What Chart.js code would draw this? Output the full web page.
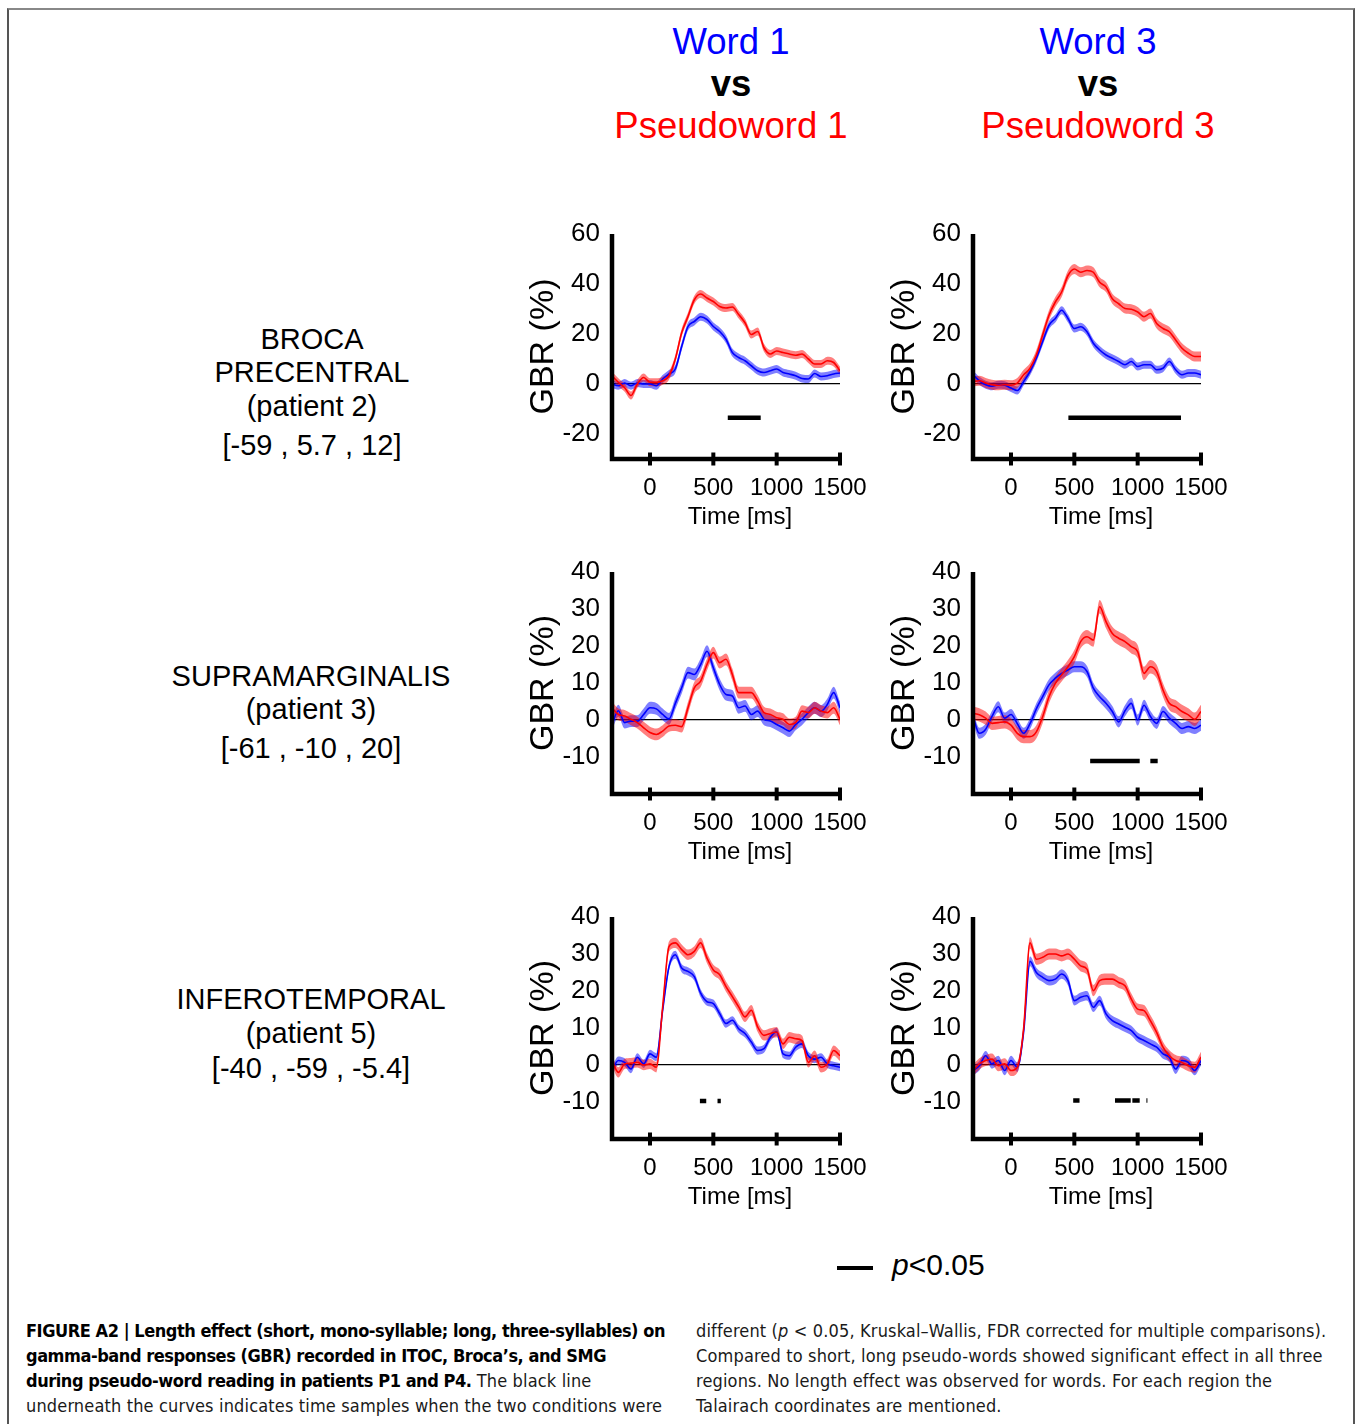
<!DOCTYPE html>
<html>
<head>
<meta charset="utf-8">
<title>Figure A2</title>
<script src="https://cdn.jsdelivr.net/npm/chart.js@4.4.1/dist/chart.umd.min.js"></script>
<style>
  html, body { margin: 0; padding: 0; background: #fff; }
  body { position: relative; width: 1355px; height: 1424px; overflow: hidden; font-family: "Liberation Sans", Arial, sans-serif; color: #000; }
  #frame { position: absolute; left: 7px; top: 8px; width: 1344px; height: 1440px; border: 2px solid #555; border-top-color: #888; border-bottom: none; }
  .lbl { position: absolute; white-space: nowrap; line-height: 1; transform: translateX(-50%); }
  .head { font-size: 36.5px; }
  .row { font-size: 29px; }
  .cap { position: absolute; top: 1318px; font-family: "DejaVu Sans Condensed", "Liberation Sans Narrow", sans-serif; font-size: 18px; line-height: 25px; white-space: nowrap; color: #1a1a1a; letter-spacing: 0.15px; }
  .cap b { color: #000; letter-spacing: -0.45px; }
</style>
</head>
<body>
<div id="frame"></div>

<div class="lbl head" style="left:731px;top:24px;color:#0000ff">Word 1</div>
<div class="lbl head" style="left:731px;top:66px;font-weight:bold">vs</div>
<div class="lbl head" style="left:731px;top:108px;color:#ff0000">Pseudoword 1</div>
<div class="lbl head" style="left:1098px;top:24px;color:#0000ff">Word 3</div>
<div class="lbl head" style="left:1098px;top:66px;font-weight:bold">vs</div>
<div class="lbl head" style="left:1098px;top:108px;color:#ff0000">Pseudoword 3</div>

<div class="lbl row" style="left:312px;top:325px">BROCA</div>
<div class="lbl row" style="left:312px;top:358px">PRECENTRAL</div>
<div class="lbl row" style="left:312px;top:392px">(patient 2)</div>
<div class="lbl row" style="left:312px;top:431px">[-59 , 5.7 , 12]</div>

<div class="lbl row" style="left:311px;top:662px">SUPRAMARGINALIS</div>
<div class="lbl row" style="left:311px;top:695px">(patient 3)</div>
<div class="lbl row" style="left:311px;top:734px">[-61 , -10 , 20]</div>

<div class="lbl row" style="left:311px;top:985px">INFEROTEMPORAL</div>
<div class="lbl row" style="left:311px;top:1019px">(patient 5)</div>
<div class="lbl row" style="left:311px;top:1054px">[-40 , -59 , -5.4]</div>

<div style="position:absolute;left:837px;top:1266px;width:36px;height:4px;background:#000"></div>
<div style="position:absolute;left:892px;top:1250px;font-size:30px;line-height:1;white-space:nowrap"><i>p</i>&lt;0.05</div>

<div class="cap" style="left:26px"><b>FIGURE A2 | Length effect (short, mono-syllable; long, three-syllables) on</b><br><b>gamma-band responses (GBR) recorded in ITOC, Broca’s, and SMG</b><br><b>during pseudo-word reading in patients P1 and P4.</b> The black line<br>underneath the curves indicates time samples when the two conditions were</div>
<div class="cap" style="left:696px">different (<i>p</i> &lt; 0.05, Kruskal–Wallis, FDR corrected for multiple comparisons).<br>Compared to short, long pseudo-words showed significant effect in all three<br>regions. No length effect was observed for words. For each region the<br>Talairach coordinates are mentioned.</div>

<script>
var timeMs = [-300, -250, -200, -150, -100, -50, 0, 50, 100, 150, 200, 250, 300, 350, 400, 450, 500, 550, 600,
  650, 700, 750, 800, 850, 900, 950, 1000, 1050, 1100, 1150, 1200, 1250, 1300, 1350, 1400, 1450, 1500];

// mean GBR (%), broca precentral
var brocaWord1 = [0, -0.7, 0.4, -0.7, 0.4, 0, 0, -0.7, 2, 4, 6, 15, 23, 25, 26.9, 25.8, 23, 21, 17.9, 12.6, 10.6, 9.3, 7.3, 5.3, 4.6, 5.3, 6, 4.6, 4, 3.3, 2.2, 2, 4.2, 3, 3.3, 4, 4.4];
var brocaPseudo1 = [3.3, 0.7, -1.5, -4.6, 0, 2.6, 0.7, 0.7, 1.3, 3.3, 10, 20.5, 27, 33.7, 36, 34.4, 33, 31, 30.4, 30.8, 27.8, 24.5, 19.8, 21, 14.5, 12, 13.2, 12.6, 12, 11.5, 12, 10, 8, 8, 9.3, 8.6, 5.3];
var brocaWord3 = [3.7, 1.3, -0.3, -0.9, -0.3, -0.5, -1.6, -2.6, 1, 5, 10.3, 17, 23.5, 26.2, 29.5, 26.2, 22.2, 22.9, 20.9, 16.3, 13.6, 11.6, 10.3, 9, 7.7, 9, 7, 7.7, 7.7, 5.7, 6.3, 9, 5.7, 3.7, 4.4, 4.4, 3.7];
var brocaPseudo3 = [1, 1.3, 0.4, -0.3, -0.5, -0.3, -0.5, 0.4, 3.7, 6.3, 11.6, 19.6, 27.5, 32.8, 36.8, 43.4, 46, 44.7, 45.4, 44.7, 40.7, 38.8, 34.1, 32.1, 30.2, 29.9, 28.8, 26.9, 28.2, 24.2, 22.2, 20.9, 17.6, 14.3, 12.3, 11, 11];

// supramarginalis
var smgWord1 = [-1.2, 2.5, -0.7, -0.3, -0.3, 1.5, 3.3, 3.0, 1.5, 0.3, 4.5, 8.7, 12.8, 12.3, 15, 18.6, 14.1, 9.6, 6.9, 6.5, 3.3, 3.8, 1.5, 2.4, 0.2, -0.3, -1.2, -2.1, -3, -1.2, 0.2, 2, 3.3, 2.4, 4.2, 7.4, 3.3];
var smgPseudo1 = [3.3, 1.5, 1.1, 0.2, -0.7, -2.1, -3.4, -3.9, -3, -1.6, -1.4, -1.8, 3.3, 8.7, 10.5, 15, 18.2, 15.5, 16.4, 12.3, 7.4, 7.4, 7.4, 5.1, 2, 1.5, 0.6, 0.2, -1.2, -0.7, 2.4, 2, 3.3, 2.4, 2, 3.3, 0.2];
var smgWord3 = [0.9, -3.6, -2.5, 1.0, 3.6, 0.5, 1.5, -1.0, -3.6, -1.0, 3.0, 6.3, 9.5, 11.3, 12.6, 13.5, 14.4, 14.4, 13.1, 8.6, 6.3, 4.5, 2.3, -0.5, 2.5, 4.5, 0, 4, 1, -0.9, 2.3, 0.5, -0.9, -2.3, -1.8, -2.3, -1.4];
var smgPseudo3 = [1.8, 1.4, 0.5, -0.9, -0.7, -0.5, -1.4, -3.6, -4.5, -4.5, -3.2, 0.9, 6.3, 9.9, 12.2, 14.4, 17.1, 21.2, 22.5, 21.6, 30.6, 26.6, 23.4, 22.1, 21.2, 19.8, 18.5, 12.6, 14.4, 13.1, 8.1, 4.5, 3.6, 2.3, 1.4, 0.2, 2.3];

// inferotemporal
var itWord1 = [-1.5, 1.2, 0.7, -1.1, 2.1, 0.3, 3, 2.1, 14.8, 26.6, 29.8, 26.2, 25.3, 23.9, 19.4, 17.1, 16.6, 13.9, 11.2, 12.1, 9.8, 8.5, 6.2, 3.9, 4.4, 7.5, 9.0, 3.0, 2.5, 4.8, 5.7, 2.5, 1.6, 2.1, 0.3, -0.2, -0.6];
var itPseudo1 = [1.2, -2, 0.3, 0.5, 0.7, 0, 0.3, -0.6, 15.7, 32, 33, 31.2, 29.8, 30.7, 33, 28.9, 25.7, 24.4, 21.2, 18.5, 15.7, 13, 14.8, 10.3, 8, 8.5, 8.9, 5.7, 7.5, 7.1, 6.6, 0.7, 2.5, -0.6, 0.3, 3.9, 2.5];
var itWord3 = [-1.5, -0.2, 2.5, 0.3, 1.2, -1.5, 1.2, -0.6, 9, 28, 25, 23.7, 22.8, 23.2, 24.6, 22.8, 17.4, 18.3, 18.7, 15.6, 17.4, 13.8, 12, 11.1, 10.2, 9.3, 7.5, 6.6, 5.7, 4.8, 3, 2.1, -1.1, 1.2, 0.7, -1.5, 1.2];
var itPseudo3 = [-1.5, 0.3, 1.2, 1.6, -0.2, 0.3, -1.5, -0.6, 10, 33, 28.6, 29.1, 30, 30, 29.5, 30, 28.6, 26.8, 25.9, 20.1, 22.8, 23.2, 23.2, 22.3, 21.4, 17.8, 15.1, 14.7, 12, 8.8, 4.8, 2.5, 1.2, 0.7, -0.2, -0.6, 2.1];

// s.e.m. half width of the shaded bands
var semWord = [1.6, 1.6, 1.6, 1.5, 1.1, 1.3];
var semPseudo = [1.6, 2.0, 1.6, 1.8, 1.4, 1.5];

// p<0.05 segments [start ms, end ms] and the level they are drawn at
var brocaSig1 = [[614, 874]];
var brocaSig3 = [[453, 1342]];
var smgSig1 = [];
var smgSig3 = [[625, 1016], [1100, 1158]];
var itSig1 = [[394, 444], [533, 559]];
var itSig3 = [[491, 541], [821, 945], [958, 1016], [1069, 1077]];
var sigLevel = [-13.5, -13.5, -11, -11.1, -9.7, -9.6];

var xTicks = [0, 500, 1000, 1500];
var yTicksBroca = [-20, 0, 20, 40, 60];
var yTicksSmall = [-10, 0, 10, 20, 30, 40];

var fam = '"Liberation Sans", Arial, sans-serif';
var padTop = 30;

function pts(mean, shift) {
  return mean.map(function (v, i) { return { x: timeMs[i], y: v + shift }; });
}

function sigPts(segs, level) {
  var out = [];
  segs.forEach(function (s) {
    out.push({ x: s[0], y: level }, { x: s[1], y: level }, { x: s[1], y: null });
  });
  return out;
}

var axisPlugin = {
  id: 'gbrAxes',
  afterDraw: function (chart) {
    var ctx = chart.ctx, a = chart.chartArea, xs = chart.scales.x;
    ctx.save();
    ctx.strokeStyle = '#000';
    ctx.lineWidth = 4.5;
    ctx.lineJoin = 'miter';
    ctx.beginPath();
    ctx.moveTo(a.left, a.top);
    ctx.lineTo(a.left, a.bottom);
    ctx.lineTo(a.right, a.bottom);
    ctx.stroke();
    ctx.beginPath();
    ctx.lineWidth = 4;
    xs.ticks.forEach(function (t) {
      var px = xs.getPixelForValue(t.value);
      ctx.moveTo(px, a.bottom - 6.5);
      ctx.lineTo(px, a.bottom + 6.5);
    });
    ctx.stroke();
    ctx.fillStyle = '#000';
    ctx.font = '24px ' + fam;
    ctx.textAlign = 'center';
    ctx.textBaseline = 'alphabetic';
    ctx.fillText('Time [ms]', (a.left + a.right) / 2 + 14, a.bottom + 65);
    ctx.restore();
  }
};

function plain(v) { return String(v); }

function drawPanel(p) {
  var c = document.createElement('canvas');
  c.width = 360;
  c.height = padTop + p.h + 80;
  c.style.position = 'absolute';
  c.style.left = (p.left - 92) + 'px';
  c.style.top = (p.top - padTop) + 'px';
  document.body.appendChild(c);

  var blueBand = 'rgba(0, 0, 255, 0.5)';
  var redBand = 'rgba(255, 0, 0, 0.5)';

  var datasets = [
    { data: pts(p.word, p.semW), borderWidth: 0, fill: false, order: 6 },
    { data: pts(p.word, -p.semW), borderWidth: 0, fill: '-1', backgroundColor: blueBand, order: 6 },
    { data: pts(p.pseudo, p.semP), borderWidth: 0, fill: false, order: 5 },
    { data: pts(p.pseudo, -p.semP), borderWidth: 0, fill: '-1', backgroundColor: redBand, order: 5 },
    { data: pts(p.word, 0), borderColor: '#0000ff', borderWidth: 1.6, fill: false, order: 4 },
    { data: pts(p.pseudo, 0), borderColor: '#ff0000', borderWidth: 1.6, fill: false, order: 3 },
    { data: sigPts(p.sig, p.sigY), borderColor: '#000', borderWidth: 4.5, borderCapStyle: 'butt',
      tension: 0, cubicInterpolationMode: 'default', fill: false, spanGaps: false, order: 1 }
  ];

  new Chart(c.getContext('2d'), {
    type: 'line',
    data: { datasets: datasets },
    options: {
      responsive: false,
      animation: false,
      events: [],
      layout: { autoPadding: false, padding: { top: padTop, right: 40, left: 0, bottom: 0 } },
      plugins: { legend: { display: false }, tooltip: { enabled: false } },
      elements: {
        point: { radius: 0 },
        line: { cubicInterpolationMode: 'monotone' }
      },
      scales: {
        x: {
          type: 'linear',
          min: -300,
          max: 1500,
          grid: { display: false },
          border: { display: false },
          afterBuildTicks: function (s) { s.ticks = xTicks.map(function (v) { return { value: v }; }); },
          afterFit: function (s) { s.height = 80; },
          ticks: { autoSkip: false, maxRotation: 0, padding: 7, color: '#000', callback: plain, font: { family: fam, size: 24 } }
        },
        y: {
          min: p.yMin,
          max: p.yMax,
          grid: {
            drawTicks: false,
            lineWidth: 1.3,
            color: function (ctx) { return ctx.tick && ctx.tick.value === 0 ? '#000' : 'rgba(0,0,0,0)'; }
          },
          border: { display: false },
          afterBuildTicks: function (s) { s.ticks = p.yTicks.map(function (v) { return { value: v }; }); },
          afterFit: function (s) { s.width = 92; },
          ticks: { autoSkip: false, padding: 12, color: '#000', callback: plain, font: { family: fam, size: 26 } },
          title: { display: true, text: 'GBR (%)', color: '#000', font: { family: fam, size: 34 }, padding: { top: 3, bottom: 0 } }
        }
      }
    },
    plugins: [axisPlugin]
  });
}

var panels = [
  { word: brocaWord1, pseudo: brocaPseudo1, semW: semWord[0], semP: semPseudo[0], sig: brocaSig1, sigY: sigLevel[0],
    yMin: -30, yMax: 60, yTicks: yTicksBroca, left: 612, top: 234, h: 225 },
  { word: brocaWord3, pseudo: brocaPseudo3, semW: semWord[1], semP: semPseudo[1], sig: brocaSig3, sigY: sigLevel[1],
    yMin: -30, yMax: 60, yTicks: yTicksBroca, left: 973, top: 234, h: 225 },
  { word: smgWord1, pseudo: smgPseudo1, semW: semWord[2], semP: semPseudo[2], sig: smgSig1, sigY: sigLevel[2],
    yMin: -20, yMax: 40, yTicks: yTicksSmall, left: 612, top: 572, h: 222 },
  { word: smgWord3, pseudo: smgPseudo3, semW: semWord[3], semP: semPseudo[3], sig: smgSig3, sigY: sigLevel[3],
    yMin: -20, yMax: 40, yTicks: yTicksSmall, left: 973, top: 572, h: 222 },
  { word: itWord1, pseudo: itPseudo1, semW: semWord[4], semP: semPseudo[4], sig: itSig1, sigY: sigLevel[4],
    yMin: -20, yMax: 40, yTicks: yTicksSmall, left: 612, top: 917, h: 222 },
  { word: itWord3, pseudo: itPseudo3, semW: semWord[5], semP: semPseudo[5], sig: itSig3, sigY: sigLevel[5],
    yMin: -20, yMax: 40, yTicks: yTicksSmall, left: 973, top: 917, h: 222 }
];

panels.forEach(drawPanel);
</script>
</body>
</html>
